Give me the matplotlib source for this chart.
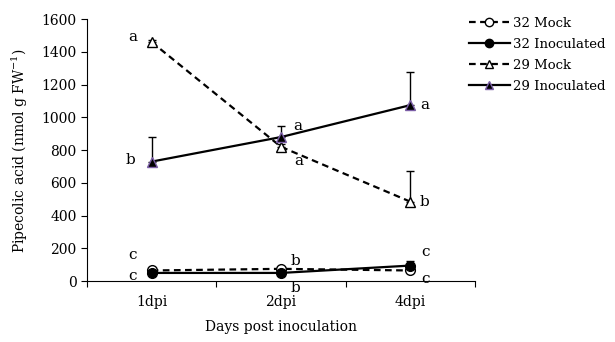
import numpy as np
import matplotlib
matplotlib.use("Agg")
import matplotlib.pyplot as plt
from matplotlib.lines import Line2D

plt.rcParams['font.family'] = ['DejaVu Serif']
plt.rcParams['mathtext.fontset'] = 'dejavuserif'

days = ["1dpi", "2dpi", "4dpi"]

mock32 = [65, 75, 65]
mock32_err = [8, 8, 8]
inoc32 = [50, 50, 95]
inoc32_err = [8, 8, 25]
mock29 = [1460, 820, 485]
mock29_err = [15, 15, 185]
inoc29 = [730, 880, 1075]
inoc29_err = [150, 70, 200]

# significance letters: (day index, value, letter, dx pts, dy pts)
letters = [
    (0, 1460, "a", -14, 4), (0, 730, "b", -15, 1),
    (1, 880, "a", 12, 8), (1, 820, "a", 13, -10),
    (2, 1075, "a", 10, 0), (2, 485, "b", 10, 0),
    (0, 65, "c", -14, 11), (0, 50, "c", -14, -2),
    (1, 75, "b", 10, 6), (1, 50, "b", 10, -11),
    (2, 95, "c", 11, 10), (2, 65, "c", 11, -6),
]

x = np.arange(len(days))

fig = plt.figure(figsize=(6.15, 3.42), dpi=100)
ax = fig.add_axes([0.1415, 0.178, 0.631, 0.766])

purple = '#7b5ea7'
ax.errorbar(x, mock32, yerr=[[0]*3, mock32_err], color='black', ls='--', dashes=(3, 2), lw=1.6,
            marker='o', ms=7, mfc='white', mec='black', ecolor='black',
            elinewidth=1.0, capsize=3)
ax.errorbar(x, inoc32, yerr=[[0]*3, inoc32_err], color='black', ls='-', lw=1.6,
            marker='o', ms=7, mfc='black', mec='black', ecolor='black',
            elinewidth=1.0, capsize=3)
ax.errorbar(x, mock29, yerr=[[0]*3, mock29_err], color='black', ls='--', dashes=(3, 2), lw=1.6,
            marker='^', ms=7, mfc='white', mec='black', ecolor='black',
            elinewidth=1.0, capsize=3)
ax.errorbar(x, inoc29, yerr=[[0]*3, inoc29_err], color='black', ls='-', lw=1.6,
            marker='^', ms=7, mfc='black', mec=purple, ecolor='black',
            elinewidth=1.0, capsize=3)

for i, v, t, dx, dy in letters:
    ax.annotate(t, (x[i], v), xytext=(dx, dy), textcoords='offset points',
                ha='center', va='center', fontsize=11)

ax.set_xlim(-0.5, 2.5)
ax.set_ylim(0, 1600)
ax.set_yticks(np.arange(0, 1601, 200))
ax.set_xticks([-0.5, 0.5, 1.5, 2.5])
ax.set_xticklabels([])
ax.set_xticks(x, minor=True)
ax.set_xticklabels(days, minor=True)
ax.tick_params(axis='x', which='minor', length=0, pad=10, labelsize=10)
ax.tick_params(axis='x', which='major', length=4, direction='out')
ax.tick_params(axis='y', labelsize=10, length=4)
ax.spines['top'].set_visible(False)
ax.spines['right'].set_visible(False)

ax.set_xlabel("Days post inoculation", fontsize=10, labelpad=8)
ax.set_ylabel("Pipecolic acid (nmol g FW$^{-1}$)", fontsize=10, labelpad=8)

handles = [
    Line2D([], [], color='black', ls='--', dashes=(3, 2), lw=1.6, marker='o', ms=6, mfc='white', mec='black'),
    Line2D([], [], color='black', ls='-', lw=1.6, marker='o', ms=6, mfc='black', mec='black'),
    Line2D([], [], color='black', ls='--', dashes=(3, 2), lw=1.6, marker='^', ms=6, mfc='white', mec='black'),
    Line2D([], [], color='black', ls='-', lw=1.6, marker='^', ms=6, mfc='black', mec=purple),
]
labels = ["32 Mock", "32 Inoculated", "29 Mock", "29 Inoculated"]
fig.legend(handles, labels, loc='upper left', bbox_to_anchor=(0.762, 0.95), frameon=False,
           fontsize=9.5, handlelength=3.1, labelspacing=0.6, handletextpad=0.3,
           borderpad=0, borderaxespad=0)

fig.savefig("out.png", dpi=100)
